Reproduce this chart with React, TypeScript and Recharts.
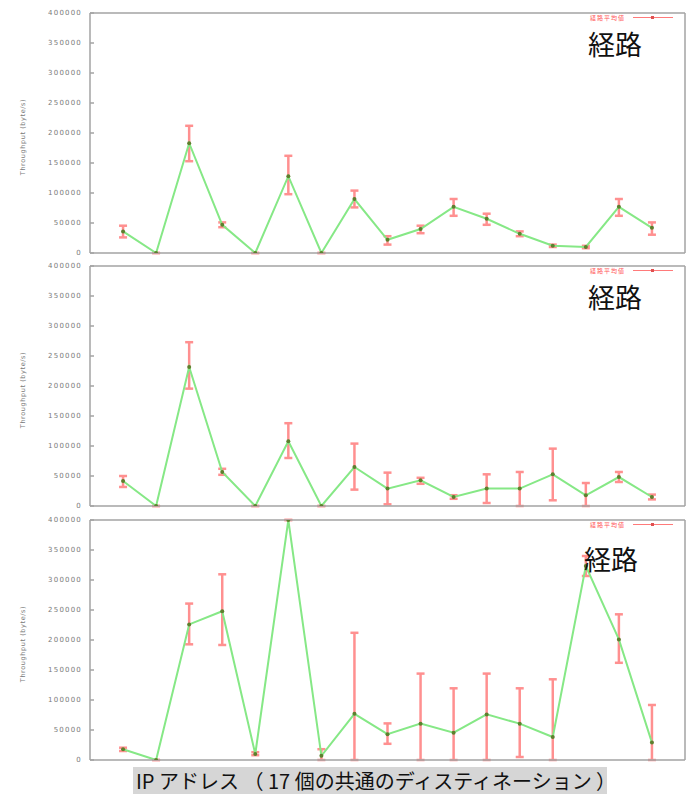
import React from "react";
import { LineChart, Line, XAxis, YAxis, ErrorBar } from "recharts";

// 17 common destinations (x positions 1..17)
const destinations = [1, 2, 3, 4, 5, 6, 7, 8, 9, 10, 11, 12, 13, 14, 15, 16, 17];
const xTicks = [2, 4, 6, 8, 10, 12, 14, 16];
const yTicks = [0, 50000, 100000, 150000, 200000, 250000, 300000, 350000, 400000];

// path 1
const mean1 = [36000, 0, 183000, 47000, 0, 128000, 0, 90000, 22000, 40000, 77000, 57000, 32000, 12000, 10000, 77000, 42000];
const low1 = [26000, 0, 153000, 43000, 0, 98000, 0, 76000, 14000, 33000, 62000, 47000, 28000, 10000, 8000, 62000, 30500];
const high1 = [45500, 0, 212000, 51000, 0, 162000, 0, 104000, 28000, 45500, 90000, 65500, 36000, 14000, 12000, 90000, 51000];

// path 2
const mean2 = [41700, 0, 231700, 56700, 0, 107800, 0, 65000, 29000, 42800, 15000, 29000, 29000, 52800, 17800, 48300, 15000];
const low2 = [31700, 0, 195600, 52000, 0, 80000, 0, 27300, 2800, 37000, 12000, 5000, 0, 9500, 0, 40000, 11000];
const high2 = [50000, 0, 273000, 62000, 0, 138000, 0, 104000, 55600, 47000, 18000, 52800, 56700, 95600, 38300, 56700, 19000];

// path 3
const mean3 = [17800, 0, 226000, 248000, 10000, 400000, 7000, 77000, 43000, 60600, 45600, 76000, 60600, 38300, 323300, 201000, 29000];
const low3 = [15000, 0, 192800, 191700, 8000, 400000, 0, 0, 27000, 0, 0, 0, 5000, 0, 306700, 162000, 0];
const high3 = [20500, 0, 260700, 309500, 13000, 400000, 18000, 212000, 61000, 144000, 119500, 144000, 119500, 134500, 340000, 242800, 91700];

const FRAME = "#a3a3a3";

type PanelProps = {
  top: number;
  mean: number[];
  low: number[];
  high: number[];
  nameTop: number;
  nameLeft: number;
};

function Panel({ top, mean, low, high, nameTop, nameLeft }: PanelProps) {
  const data = destinations.map((d, i) => ({
    x: d,
    mean: mean[i],
    err: [mean[i] - low[i], high[i] - mean[i]],
  }));

  return (
    <div style={{ position: "absolute", left: 0, top, width: 696, height: 260 }}>
      <LineChart
        width={696}
        height={260}
        data={data}
        margin={{ top: 9, right: 10, bottom: 9, left: 10 }}
      >
        <XAxis
          xAxisId="b"
          dataKey="x"
          type="number"
          domain={[0, 18]}
          ticks={xTicks}
          tick={false}
          tickSize={-4}
          height={1}
          stroke={FRAME}
          strokeWidth={1.5}
          allowDataOverflow
        />
        <XAxis
          xAxisId="t"
          orientation="top"
          dataKey="x"
          type="number"
          domain={[0, 18]}
          ticks={xTicks}
          tick={false}
          tickSize={-4}
          height={1}
          stroke={FRAME}
          strokeWidth={1.5}
          allowDataOverflow
        />
        <YAxis
          yAxisId="l"
          type="number"
          domain={[0, 400000]}
          ticks={yTicks}
          interval={0}
          width={80}
          tickSize={-4}
          tickMargin={12}
          stroke={FRAME}
          strokeWidth={1.5}
          tick={{ fontSize: 7, fill: "#7a7a7a", fontFamily: "DejaVu Sans", letterSpacing: 1.2 }}
          allowDataOverflow
          label={{
            content: (p: any) => {
              const vb = p.viewBox || { x: 10, y: 10, height: 240 };
              const cy = vb.y + vb.height / 2 + 4;
              return (
                <text
                  x={25}
                  y={cy}
                  transform={`rotate(-90 25 ${cy})`}
                  textAnchor="middle"
                  fontSize={6.5}
                  fill="#7a7a7a"
                  fontFamily="DejaVu Sans"
                  letterSpacing={0.6}
                >
                  Throughput (byte/s)
                </text>
              );
            },
          }}
        />
        <YAxis
          yAxisId="r"
          orientation="right"
          type="number"
          domain={[0, 400000]}
          ticks={yTicks}
          interval={0}
          width={1}
          tick={false}
          tickSize={-4}
          stroke={FRAME}
          strokeWidth={1.5}
          allowDataOverflow
        />
        <Line
          xAxisId="b"
          yAxisId="l"
          dataKey="mean"
          type="linear"
          stroke="#86e886"
          strokeWidth={2}
          dot={{ r: 2, fill: "#5d7f2e", stroke: "none" }}
          isAnimationActive={false}
        >
          <ErrorBar
            dataKey="err"
            direction="y"
            width={4}
            stroke="#ff9090"
            strokeWidth={2.5}
          />
        </Line>
      </LineChart>

      {/* key */}
      <div
        style={{
          position: "absolute",
          left: 590,
          top: 11,
          fontSize: 6,
          color: "#ff5a5a",
          fontFamily: "Noto Sans CJK JP",
          lineHeight: "8px",
          letterSpacing: 1,
          whiteSpace: "nowrap",
        }}
      >
        経路平均値
      </div>
      <div style={{ position: "absolute", left: 633, top: 14, width: 40, height: 1, background: "#ff7a7a" }} />
      <div style={{ position: "absolute", left: 651, top: 13, width: 3, height: 3, background: "#e05050" }} />
      <div
        style={{
          position: "absolute",
          left: nameLeft,
          top: nameTop,
          fontSize: 27,
          lineHeight: "27px",
          color: "#111",
          fontFamily: "Noto Sans CJK JP",
          whiteSpace: "nowrap",
        }}
      >
        経路
      </div>
    </div>
  );
}

export default function App() {
  return (
    <div
      style={{
        position: "absolute",
        left: 0,
        top: 0,
        width: 696,
        height: 794,
        background: "#fff",
        overflow: "hidden",
      }}
    >
      <Panel top={3} mean={mean1} low={low1} high={high1} nameTop={27} nameLeft={588} />
      <Panel top={256} mean={mean2} low={low2} high={high2} nameTop={27} nameLeft={588} />
      <Panel top={510} mean={mean3} low={low3} high={high3} nameTop={35} nameLeft={584} />

      <div
        style={{
          position: "absolute",
          left: 133,
          top: 767,
          width: 474,
          height: 27,
          background: "#d6d6d6",
          fontFamily: "Noto Sans CJK JP",
          fontSize: 20,
          lineHeight: "27px",
          color: "#111",
          paddingLeft: 3,
          boxSizing: "border-box",
          whiteSpace: "nowrap",
        }}
      >
        IP アドレス （ 17 個の共通のディスティネーション ）
      </div>
    </div>
  );
}
